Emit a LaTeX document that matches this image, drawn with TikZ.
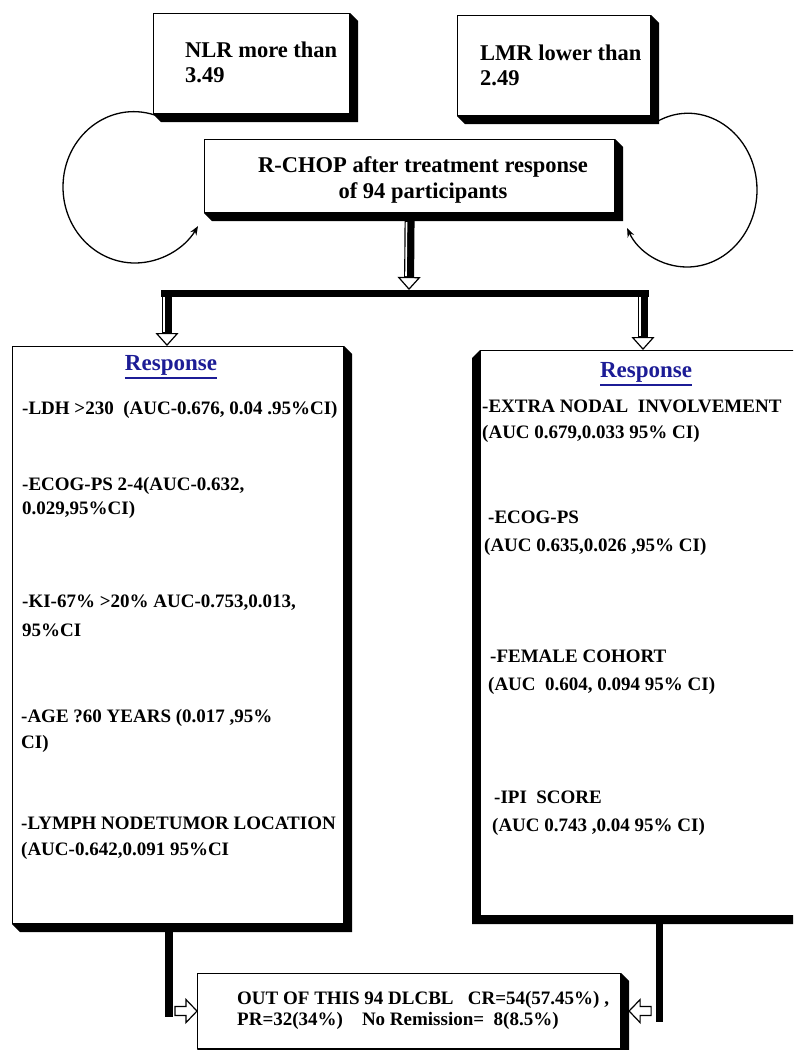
\documentclass[tikz,border=0pt]{standalone}
\usepackage{fontspec}
\setmainfont{Liberation Serif}
\usetikzlibrary{arrows.meta,calc}
\definecolor{respblue}{RGB}{28,28,150}
\newcommand\respul[1]{\setbox0\hbox{#1}\rlap{\rule[-9pt]{\wd0}{2pt}}\box0}
\tikzset{
 box/.style={draw=black, line width=1.1pt, fill=white, rectangle, inner sep=0pt, anchor=north west},
 ltxt/.style={font=\bfseries\fontsize{19}{23}\selectfont, anchor=base west, inner sep=0pt},
 ttxt/.style={font=\bfseries\fontsize{22.5}{26}\selectfont, anchor=base west, inner sep=0pt},
 ctxt/.style={font=\bfseries\fontsize{22.5}{26}\selectfont, anchor=base, inner sep=0pt},
 resp/.style={font=\bfseries\fontsize{23}{26}\selectfont, text=respblue, anchor=base, inner sep=0pt},
 shade/.style={fill=black},
 loopline/.style={line width=1.3pt, -{Stealth[length=9pt,width=7pt]}},
 blockdown/.style={line width=10pt, -{Triangle[open, fill=white, length=13pt, width=23pt, line width=1.2pt]}},
 stripe/.style={white, line width=1.6pt},
 thickbar/.style={line width=7pt},
 hollowhead/.style={draw=black, line width=1.2pt, fill=white, line join=miter},
}
\begin{document}
\begin{tikzpicture}[x=1pt,y=-1pt]
\useasboundingbox (0,0) rectangle (793,1050);
\clip (0,0) rectangle (793,1050);

% ---------- boxes ----------
\node[box, minimum width=196pt, minimum height=100pt] (nlr) at (153,13) {};
\node[box, minimum width=193pt, minimum height=100pt] (lmr) at (457,15) {};
\node[box, minimum width=410pt, minimum height=73pt] (rchop) at (204,139) {};
\node[box, minimum width=331pt, minimum height=577pt] (lbox) at (12,346) {};
\node[box, minimum width=330pt, minimum height=565pt] (rbox) at (480,350) {};
\node[box, minimum width=423pt, minimum height=75pt] (final) at (197,973) {};

% ---------- shadows ----------
\foreach \n in {nlr,lmr,rchop,lbox,final}{
  \fill[shade] (\n.north east) -- ++(8,8) -- ($(\n.south east)+(8,8)$) -- ($(\n.south west)+(8,8)$) -- (\n.south west) -- (\n.south east) -- cycle;
}
\fill[shade] (rbox.north west) -- ++(-8,8) -- ($(rbox.south west)+(-8,8)$) -- ($(rbox.south east)+(0,8)$) -- (rbox.south east) -- (rbox.south west) -- cycle;

% ---------- texts ----------
\node[ttxt] (nlr1) at (185,57) {NLR more than};
\node[ttxt] (nlr2) at (185,82) {3.49};
\node[ttxt] (lmr1) at (480,60) {LMR lower than};
\node[ttxt] (lmr2) at (480,85) {2.49};
\node[ctxt] (rc1) at (423,172) {R-CHOP after treatment response};
\node[ctxt] (rc2) at (423,198) {of 94 participants};

\node[resp] (respL) at (171,370) {\respul{Response}};
\node[resp] (respR) at (646,377) {\respul{Response}};

\node[ltxt] (l1) at (22,414) {-LDH >230~ (AUC-0.676, 0.04 .95\%CI)};
\node[ltxt] (l2) at (22,490) {-ECOG-PS 2-4(AUC-0.632,};
\node[ltxt] (l3) at (22,514) {0.029,95\%CI)};
\node[ltxt] (l4) at (22,607) {-KI-67\% >20\% AUC-0.753,0.013,};
\node[ltxt] (l5) at (22,636) {95\%CI};
\node[ltxt] (l6) at (21,722) {-AGE ?60 YEARS (0.017 ,95\%};
\node[ltxt] (l7) at (21,748) {CI)};
\node[ltxt] (l8) at (21,829) {-LYMPH NODETUMOR LOCATION};
\node[ltxt] (l9) at (21,855) {(AUC-0.642,0.091 95\%CI};

\node[ltxt] (r1) at (482,412) {-EXTRA NODAL~ INVOLVEMENT};
\node[ltxt] (r2) at (482,438) {(AUC 0.679,0.033 95\% CI)};
\node[ltxt] (r3) at (488,523) {-ECOG-PS};
\node[ltxt] (r4) at (484,551) {(AUC 0.635,0.026 ,95\% CI)};
\node[ltxt] (r5) at (490,662) {-FEMALE COHORT};
\node[ltxt] (r6) at (488,690) {(AUC~ 0.604, 0.094 95\% CI)};
\node[ltxt] (r7) at (494,803) {-IPI~ SCORE};
\node[ltxt] (r8) at (492,831) {(AUC 0.743 ,0.04 95\% CI)};

\node[ltxt] (f1) at (237,1004) {OUT OF THIS 94 DLCBL~~ CR=54(57.45\%) ,};
\node[ltxt] (f2) at (237,1025) {PR=32(34\%)~~~ No Remission=~ 8(8.5\%)};

% ---------- loops ----------
\draw[loopline] ($(nlr.south west)+(2,1)$) .. controls (108.8,99.9) and (63,136.5) .. (63,187)
   .. controls (63,229) and (95.2,263) .. (135,263)
   .. controls (160.7,263) and (184.5,248.5) .. ($(rchop.south west)+(-6,13)$);
\draw[loopline] ($(lmr.south east)+(5,6)$) .. controls (701.8,95.3) and (757,132.5) .. (757,190)
   .. controls (757,232.5) and (725.7,267) .. (687,267)
   .. controls (661.6,267) and (638.1,251.8) .. ($(rchop.south east)+(12,15)$);

% ---------- split ----------
\coordinate (split) at (409,290);
\coordinate (barL) at (161,293.5);
\coordinate (barR) at (649,293.5);
\coordinate (dL) at (167,297);
\coordinate (dR) at (643,297);

\draw[blockdown] ($(rchop.south)+(0,8)$) -- (split);
\draw[stripe] ($(rchop.south)+(-3,9)$) -- ($(split)+(-3,-14)$);
\draw[thickbar] (barL) -- (barR);
\draw[blockdown] (dL) -- (dL |- lbox.north);
\draw[stripe] ($(dL)+(-3,0)$) -- ($(dL |- lbox.north)+(-3,-14)$);
\draw[blockdown] (dR) -- (dR |- rbox.north);
\draw[stripe] ($(dR)+(-3,0)$) -- ($(dR |- rbox.north)+(-3,-14)$);

% ---------- bottom connectors ----------
\coordinate (cL) at (169,932);
\coordinate (cR) at (659,923);
\draw[line width=8pt] (cL) -- (169,1017);
\draw[line width=7pt] (cR) -- (659,1022);
\draw[hollowhead] (final.west) -- ++(-11,-11.5) -- ++(0,7) -- ++(-11,0) -- ++(0,9) -- ++(11,0) -- ++(0,7) -- cycle;
\draw[hollowhead] ($(final.east)+(8,0)$) -- ++(11,-11.5) -- ++(0,7) -- ++(11,0) -- ++(0,9) -- ++(-11,0) -- ++(0,7) -- cycle;
\end{tikzpicture}
\end{document}
